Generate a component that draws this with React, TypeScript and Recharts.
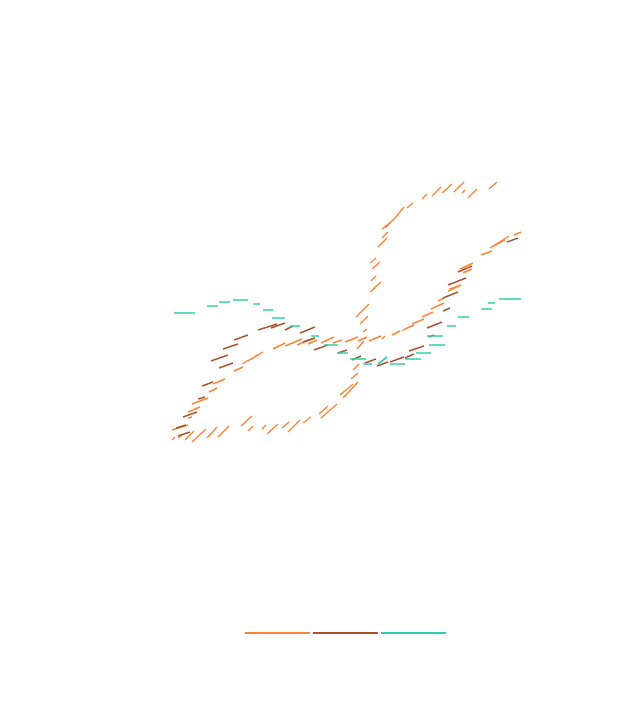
import { LineChart, Line, XAxis, YAxis, Legend } from "recharts"

// segments: [x1, y1, x2, y2]
const orangeSegments = [
  [404, 207, 395, 218], [393, 220, 382, 229], [395, 218, 385, 228], [388, 232, 382, 238],
  [387, 238, 378, 247], [376, 258, 370, 263], [380, 262, 372, 269], [376, 276, 371, 281],
  [381, 282, 373, 289], [375, 288, 370, 292], [369, 304, 356, 317], [368, 316, 360, 324],
  [367, 329, 363, 332], [407, 208, 413, 203], [422, 199, 427, 194], [432, 196, 441, 187],
  [442, 193, 452, 184], [454, 192, 464, 182], [462, 193, 465, 190], [468, 198, 477, 189],
  [489, 189, 497, 182], [514, 235, 521, 232], [490, 248, 509, 236], [494, 246, 505, 240],
  [481, 255, 492, 251], [460, 269, 473, 263], [463, 273, 472, 269], [450, 289, 461, 285],
  [448, 291, 461, 285], [438, 301, 444, 298], [431, 309, 444, 303], [422, 317, 433, 312],
  [412, 324, 424, 319], [405, 329, 414, 325], [402, 331, 405, 329], [392, 335, 400, 331],
  [382, 339, 385, 336], [369, 341, 381, 336], [358, 341, 367, 337], [357, 349, 364, 341],
  [345, 342, 358, 337], [333, 343, 342, 340], [321, 343, 334, 337], [308, 344, 317, 340],
  [297, 345, 314, 338], [285, 346, 302, 339], [273, 349, 285, 343], [242, 364, 263, 352],
  [248, 361, 260, 354], [234, 371, 243, 367], [213, 384, 225, 379], [209, 392, 217, 388],
  [192, 404, 208, 398], [188, 412, 200, 407], [188, 418, 192, 417], [172, 430, 188, 425],
  [172, 440, 175, 437], [178, 438, 182, 435], [185, 440, 194, 431], [192, 442, 206, 429],
  [207, 438, 217, 427], [218, 437, 229, 426], [241, 426, 252, 416], [248, 431, 253, 426],
  [262, 429, 266, 425], [267, 434, 278, 424], [282, 428, 289, 422], [288, 432, 300, 420],
  [303, 423, 311, 417], [319, 414, 328, 406], [321, 418, 337, 404], [340, 395, 353, 384],
  [343, 398, 358, 382], [351, 379, 358, 373], [353, 370, 359, 364],
]

const brownSegments = [
  [507, 242, 518, 238], [458, 272, 472, 266], [448, 285, 466, 278], [443, 298, 458, 292],
  [443, 311, 450, 308], [427, 328, 442, 322], [429, 337, 434, 335], [409, 351, 424, 346],
  [405, 358, 414, 354], [390, 362, 404, 357], [377, 366, 388, 362], [365, 363, 376, 359],
  [352, 360, 361, 356], [338, 353, 347, 350], [314, 350, 328, 345], [303, 342, 315, 338],
  [300, 333, 315, 327], [285, 330, 293, 326], [258, 330, 277, 324], [271, 328, 285, 323],
  [234, 340, 248, 335], [223, 349, 238, 344], [211, 361, 228, 355], [219, 368, 233, 363],
  [202, 386, 213, 382], [198, 399, 205, 397], [183, 417, 197, 412], [178, 436, 190, 432],
  [176, 428, 186, 425],
]

const tealSegments = [
  [174, 313, 195, 313], [207, 306, 218, 306], [219, 302, 230, 302], [233, 300, 248, 300],
  [253, 304, 260, 304], [263, 310, 273, 310], [272, 318, 285, 318], [290, 326, 300, 326],
  [311, 336, 319, 336], [324, 345, 338, 345], [337, 353, 348, 353], [350, 359, 366, 359],
  [363, 364, 372, 364], [378, 364, 387, 357], [390, 364, 405, 364], [405, 359, 421, 359],
  [416, 353, 431, 353], [429, 345, 445, 345], [427, 336, 443, 336], [447, 326, 456, 326],
  [458, 317, 469, 317], [481, 309, 492, 309], [488, 303, 495, 303], [499, 299, 521, 299],
]

const series = [
  { key: "a", color: "#ff8030", width: 1.4, segments: orangeSegments },
  { key: "b", color: "#a9502b", width: 1.4, segments: brownSegments },
  { key: "c", color: "#2bd3a3", width: 1.6, segments: tealSegments },
]

// each segment becomes two points, then a null to break the line
const toLineData = (segs: number[][]) =>
  segs.flatMap(([x1, y1, x2, y2]) => [
    { x: x1, y: y1 },
    { x: x2, y: y2 },
    { x: x2, y: null },
  ])

const LegendLines = () => (
  <div style={{ display: "flex", justifyContent: "center", height: 20, alignItems: "center" }}>
    {series.map((s) => (
      <div key={s.key} style={{ width: 65, height: 2, background: s.color, margin: "0 1.5px" }} />
    ))}
  </div>
)

export default function App() {
  return (
    <LineChart width={628} height={685} margin={{ top: 0, right: 0, left: 47, bottom: 50 }}>
      <XAxis dataKey="x" type="number" domain={[55, 636]} allowDataOverflow hide />
      <YAxis type="number" domain={[8, 623]} reversed allowDataOverflow hide />
      <Legend verticalAlign="bottom" content={() => <LegendLines />} />
      {series.map((s) => (
        <Line
          key={s.key}
          data={toLineData(s.segments)}
          dataKey="y"
          type="linear"
          stroke={s.color}
          strokeWidth={s.width}
          dot={false}
          activeDot={false}
          connectNulls={false}
          isAnimationActive={false}
        />
      ))}
    </LineChart>
  )
}
